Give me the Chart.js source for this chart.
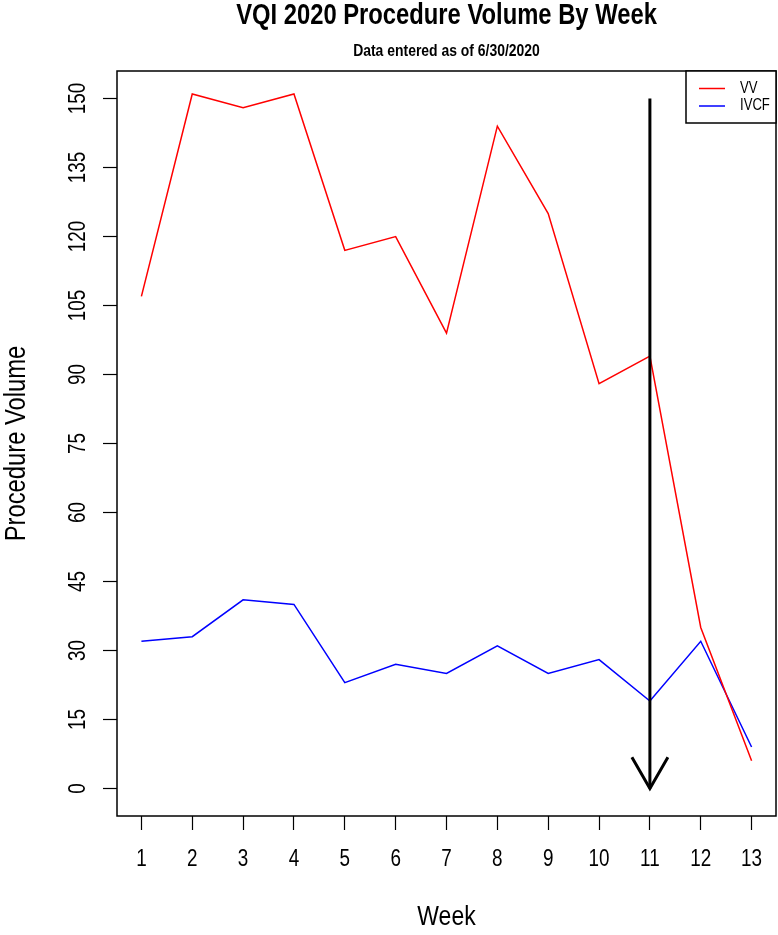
<!DOCTYPE html>
<html>
<head>
<meta charset="utf-8">
<script src="https://cdn.jsdelivr.net/npm/chart.js@4.4.1/dist/chart.umd.min.js"></script>
<style>
  html, body { margin: 0; padding: 0; background: #ffffff; }
  canvas { display: block; }
</style>
</head>
<body>
<canvas id="chart" width="778" height="935"></canvas>
<script>
// ---- data ----
const weeks = [1, 2, 3, 4, 5, 6, 7, 8, 9, 10, 11, 12, 13];
const vvVolume = [107, 151, 148, 151, 117, 120, 99, 144, 125, 88, 94, 35, 6];
const ivcfVolume = [32, 33, 41, 40, 23, 27, 25, 31, 25, 28, 19, 32, 9];
const yTickValues = [0, 15, 30, 45, 60, 75, 90, 105, 120, 135, 150];
const xTickValues = [1, 2, 3, 4, 5, 6, 7, 8, 9, 10, 11, 12, 13];
const seriesNames = ['VV', 'IVCF'];
const seriesColors = ['#ff0000', '#0000ff'];
const arrowWeek = 11;
const arrowFromTo = [150, 0];
const xLimits = [0.52, 13.48];
const yLimits = [-6, 156];

const FONT = "'Liberation Sans', Arial, Helvetica, sans-serif";
Chart.defaults.font.family = FONT;
Chart.defaults.color = '#000000';

// Narrow (condensed) text rendering, like the Helvetica Narrow face of the reference
const canvas = document.getElementById('chart');
const ctx2d = canvas.getContext('2d');
const NARROW = 0.82;
const origFill = CanvasRenderingContext2D.prototype.fillText;
const origMeasure = CanvasRenderingContext2D.prototype.measureText;
ctx2d.fillText = function (text, x, y, maxWidth) {
  this.save();
  this.translate(x, y);
  this.scale(NARROW, 1);
  if (maxWidth !== undefined) origFill.call(this, text, 0, 0, maxWidth / NARROW);
  else origFill.call(this, text, 0, 0);
  this.restore();
};
ctx2d.measureText = function (text) {
  const m = origMeasure.call(this, text);
  return {
    width: m.width * NARROW,
    actualBoundingBoxLeft: m.actualBoundingBoxLeft * NARROW,
    actualBoundingBoxRight: m.actualBoundingBoxRight * NARROW,
    actualBoundingBoxAscent: m.actualBoundingBoxAscent,
    actualBoundingBoxDescent: m.actualBoundingBoxDescent,
    fontBoundingBoxAscent: m.fontBoundingBoxAscent,
    fontBoundingBoxDescent: m.fontBoundingBoxDescent
  };
};

const toPoints = (vals) => weeks.map((w, i) => ({ x: w, y: vals[i] }));

const boxPlugin = {
  id: 'plotBox',
  afterDraw(chart) {
    const { ctx, chartArea: a } = chart;
    ctx.save();
    ctx.strokeStyle = '#000';
    ctx.lineWidth = 1.5;
    ctx.strokeRect(a.left, a.top, a.right - a.left, a.bottom - a.top);
    ctx.restore();
  }
};

const arrowPlugin = {
  id: 'arrow',
  afterDatasetsDraw(chart) {
    const { ctx, scales } = chart;
    const x = scales.x.getPixelForValue(arrowWeek);
    const y0 = scales.y.getPixelForValue(arrowFromTo[0]);
    const y1 = scales.y.getPixelForValue(arrowFromTo[1]);
    const headLen = 36, ang = Math.PI / 6;
    ctx.save();
    ctx.strokeStyle = '#000';
    ctx.lineWidth = 3;
    ctx.lineCap = 'butt';
    ctx.beginPath();
    ctx.moveTo(x, y0);
    ctx.lineTo(x, y1);
    ctx.stroke();
    ctx.beginPath();
    ctx.moveTo(x - headLen * Math.sin(ang), y1 - headLen * Math.cos(ang));
    ctx.lineTo(x, y1);
    ctx.lineTo(x + headLen * Math.sin(ang), y1 - headLen * Math.cos(ang));
    ctx.lineJoin = 'miter';
    ctx.stroke();
    ctx.restore();
  }
};

const legendPlugin = {
  id: 'insideLegend',
  afterDraw(chart) {
    const { ctx, chartArea: a } = chart;
    const ds = chart.data.datasets;
    const w = 90, h = 52;
    const left = a.right - w, top = a.top;
    ctx.save();
    ctx.fillStyle = '#fff';
    ctx.fillRect(left, top, w, h);
    ctx.strokeStyle = '#000';
    ctx.lineWidth = 1.5;
    ctx.strokeRect(left, top, w, h);
    ctx.font = "16px " + FONT;
    ctx.textBaseline = 'middle';
    ctx.textAlign = 'left';
    ds.forEach((d, i) => {
      const y = top + 17.5 + i * 17.5;
      ctx.strokeStyle = d.borderColor;
      ctx.lineWidth = 1.5;
      ctx.beginPath();
      ctx.moveTo(left + 13, y);
      ctx.lineTo(left + 39, y);
      ctx.stroke();
      ctx.fillStyle = '#000';
      ctx.fillText(d.label, left + 54, y);
    });
    ctx.restore();
  }
};

new Chart(ctx2d, {
  type: 'line',
  data: {
    datasets: [
      { label: seriesNames[0], data: toPoints(vvVolume), borderColor: seriesColors[0], backgroundColor: seriesColors[0], borderWidth: 1.5, pointRadius: 0, tension: 0, fill: false },
      { label: seriesNames[1], data: toPoints(ivcfVolume), borderColor: seriesColors[1], backgroundColor: seriesColors[1], borderWidth: 1.5, pointRadius: 0, tension: 0, fill: false }
    ]
  },
  options: {
    responsive: false,
    devicePixelRatio: 1,
    animation: false,
    layout: { padding: { left: 0, right: 2, top: 0, bottom: 0 } },
    plugins: {
      legend: { display: false },
      tooltip: { enabled: false },
      title: {
        display: true,
        fullSize: false,
        text: 'VQI 2020 Procedure Volume By Week',
        color: '#000',
        font: { size: 29, weight: 'bold', lineHeight: 1 },
        padding: { top: 1.5, bottom: 12 }
      },
      subtitle: {
        display: true,
        fullSize: false,
        text: 'Data entered as of 6/30/2020',
        color: '#000',
        font: { size: 17, weight: 'bold', lineHeight: 1 },
        padding: { top: 0, bottom: 11.5 }
      }
    },
    scales: {
      x: {
        type: 'linear',
        min: xLimits[0],
        max: xLimits[1],
        afterBuildTicks: (axis) => { axis.ticks = xTickValues.map(v => ({ value: v })); },
        afterFit: (axis) => { axis.height = 119; axis.paddingLeft = 0; axis.paddingRight = 0; },
        grid: { display: true, drawOnChartArea: false, drawTicks: true, tickLength: 14, tickColor: '#000', tickWidth: 1.2 },
        border: { display: false },
        ticks: { autoSkip: false, maxRotation: 0, minRotation: 0, padding: 18, font: { size: 23, lineHeight: 1 }, color: '#000', callback: (v) => String(v) },
        title: { display: true, text: 'Week', color: '#000', font: { size: 28, lineHeight: 1 }, padding: { top: 0, bottom: 3.5 } }
      },
      y: {
        type: 'linear',
        min: yLimits[0],
        max: yLimits[1],
        afterBuildTicks: (axis) => { axis.ticks = yTickValues.map(v => ({ value: v })); },
        afterFit: (axis) => { axis.width = 117; axis.paddingTop = 0; axis.paddingBottom = 0; },
        grid: { display: true, drawOnChartArea: false, drawTicks: true, tickLength: 14, tickColor: '#000', tickWidth: 1.2 },
        border: { display: false },
        ticks: { autoSkip: false, minRotation: 90, maxRotation: 90, crossAlign: 'center', padding: 9, font: { size: 23, lineHeight: 1 }, color: '#000', callback: (v) => String(v) },
        title: { display: true, text: 'Procedure Volume', color: '#000', font: { size: 29, lineHeight: 1 }, padding: { top: 2.5, bottom: 0 } }
      }
    }
  },
  plugins: [arrowPlugin, boxPlugin, legendPlugin]
});
</script>
</body>
</html>
